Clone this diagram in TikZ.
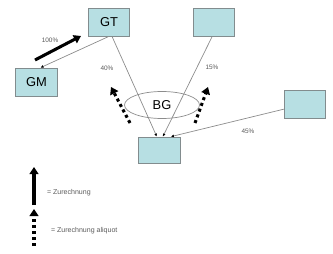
\documentclass[tikz,border=0pt]{standalone}
\usepackage{fontspec}
\setmainfont{Liberation Sans}
\usetikzlibrary{arrows.meta}

\definecolor{boxfill}{RGB}{183,223,227}
\definecolor{boxline}{RGB}{130,140,142}
\definecolor{linkgray}{RGB}{140,140,140}
\definecolor{labelgray}{RGB}{90,90,90}

\tikzset{
    unitbox/.style={draw=boxline, fill=boxfill, line width=0.6pt, inner sep=0pt,
        minimum width=1.25cm, minimum height=0.84cm, font=\fontsize{11}{11}\selectfont},
    share/.style={draw=linkgray, line width=0.6pt, -{Latex[length=2.6pt,width=2.4pt,black]}},
    pct/.style={text=labelgray, font=\fontsize{5.5}{6}\selectfont},
    full/.style={line width=2.6pt, -{Triangle[length=6pt,width=7.5pt]}},
    aliquot/.style={line width=2.6pt, dash pattern=on 2.6pt off 2.6pt, -{Triangle[length=6pt,width=7.5pt]}},
    legend/.style={text=labelgray, font=\fontsize{6}{7}\selectfont, anchor=west}
}

\begin{document}
\begin{tikzpicture}[x=0.03cm, y=-0.03cm]
    \useasboundingbox (0,0) rectangle (333,254);

    % Units
    \node[unitbox] (GT) at (109,22) {GT};
    \node[unitbox] (GM) at (36.5,82) {GM};
    \node[unitbox] (TR) at (214,22.5) {};
    \node[unitbox] (RR) at (305,104.5) {};
    \node[unitbox, minimum height=0.78cm] (BB) at (159.5,150) {};

    % Group ellipse
    \draw[draw=linkgray, line width=0.6pt] (162,105) ellipse (37.5 and 13.5);
    \node[font=\fontsize{11}{11}\selectfont] (BG) at (162,105) {BG};

    % Shares
    \draw[share] (GT.south) -- ([xshift=0.12cm]GM.north);
    \draw[share] ([xshift=0.09cm]GT.south) -- ([xshift=-0.08cm]BB.north);
    \draw[share] ([xshift=-0.06cm]TR.south) -- ([xshift=0.1cm]BB.north);
    \draw[share] ([yshift=-0.14cm]RR.west) -- ([xshift=0.34cm]BB.north);

    \node[pct] (p100) at (50,40) {100\%};
    \node[pct] (p40) at (107,68) {40\%};
    \node[pct] (p15) at (212,67) {15\%};
    \node[pct] (p45) at (248,131) {45\%};

    % Attribution arrows
    \coordinate (a0) at (35,60);
    \coordinate (a1) at (81,36);
    \draw[full] (a0) -- (a1);

    \coordinate (l0) at (130,123);
    \coordinate (l1) at (111,87);
    \draw[aliquot] (l0) -- (l1);
    \coordinate (r0) at (195,123);
    \coordinate (r1) at (208,87);
    \draw[aliquot] (r0) -- (r1);

    % Legend
    \coordinate (k0) at (34,205);
    \coordinate (k1) at (34,167);
    \draw[full] (k0) -- (k1);
    \node[legend] (kfull) at (43,193) {= Zurechnung};

    \coordinate (m0) at (34,246);
    \coordinate (m1) at (34,209);
    \draw[aliquot] (m0) -- (m1);
    \node[legend] (kali) at (47,231) {= Zurechnung aliquot};
\end{tikzpicture}
\end{document}
